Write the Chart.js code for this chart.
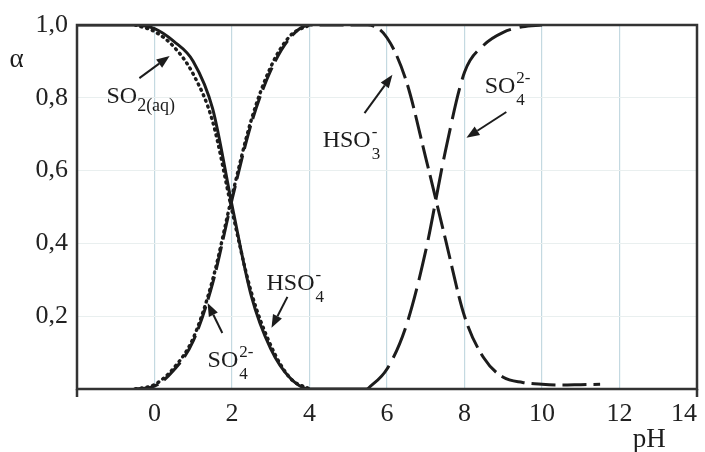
<!DOCTYPE html>
<html>
<head>
<meta charset="utf-8">
<script src="https://cdn.jsdelivr.net/npm/chart.js@4.4.1/dist/chart.umd.min.js"></script>
<style>
  html, body { margin: 0; padding: 0; background: #fff; }
  #wrap { width: 705px; height: 452px; position: relative; }
</style>
</head>
<body>
<div id="wrap"><canvas id="chart"></canvas></div>
<script>
// pH grid the curves were read on
const pH = [-2, -1.5, -1, -0.5, 0, 0.5, 1, 1.5, 2, 2.5, 3, 3.5, 4, 4.5, 5, 5.5,
            6, 6.5, 7, 7.5, 8, 8.5, 9, 9.5, 10, 10.5, 11, 11.5, 12, 12.5, 13, 13.5, 14];

// fractions (null = not drawn)
const so2aq = [1, 1, 1, 1, 0.99, 0.955, 0.9, 0.77, 0.505, 0.255, 0.11, 0.03, 0, 0, 0, 0,
               null, null, null, null, null, null, null, null, null, null, null, null, null, null, null, null, null];
const hso4  = [null, null, null, 1, 0.982, 0.94, 0.865, 0.735, 0.49, 0.265, 0.12, 0.03, 0,
               null, null, null, null, null, null, null, null, null, null, null, null, null, null, null, null, null, null, null, null];
const so4   = [null, null, null, 0, 0.012, 0.058, 0.14, 0.3, 0.53, 0.74, 0.885, 0.97, 1,
               null, null, null, null, null, null, null, null, null, null, null, null, null, null, null, null, null, null, null, null];
const hso3  = [null, null, null, 0, 0.008, 0.052, 0.132, 0.29, 0.52, 0.73, 0.875, 0.965, 1, 1, 1, 1,
               0.965, 0.845, 0.635, 0.415, 0.2, 0.085, 0.032, 0.018, 0.013, 0.011, 0.012, 0.013, null, null, null, null, null];
const so3   = [null, null, null, null, null, null, null, null, null, null, null, null, null, null, null, 0,
               0.055, 0.175, 0.38, 0.65, 0.87, 0.945, 0.98, 0.995, 1, null, null, null, null, null, null, null, null];

const xMin = -2, xMax = 14, xStep = 2;
const yMin = 0, yMax = 1, yStep = 0.2;

// species labels with arrows, in data units
const notes = [
  { parts: [['SO', 'n'], ['2(aq)', 'sub']], at: [-1.24, 0.786], from: [-0.39, 0.854], to: [0.39, 0.915] },
  { parts: [['HSO', 'n'], ['-', '3']],      at: [4.34, 0.665],  from: [5.42, 0.758],  to: [6.14, 0.863] },
  { parts: [['SO', 'n'], ['2-', '4']],      at: [8.52, 0.813],  from: [9.08, 0.761],  to: [8.05, 0.69] },
  { parts: [['HSO', 'n'], ['-', '4']],      at: [2.89, 0.272],  from: [3.43, 0.253],  to: [3.02, 0.168] },
  { parts: [['SO', 'n'], ['2-', '4']],      at: [1.37, 0.06],   from: [1.75, 0.154],  to: [1.37, 0.236] }
];

const SERIF = '"Liberation Serif", "DejaVu Serif", serif';
const INK = '#1c1c1c';

function pts(values) {
  return pH.map((x, i) => ({ x: x, y: values[i] }));
}

const framePlugin = {
  id: 'frame',
  afterDatasetsDraw(chart) {
    const { ctx, chartArea: a } = chart;
    ctx.save();
    ctx.strokeStyle = '#333';
    ctx.lineWidth = 2.5;
    ctx.strokeRect(a.left, a.top, a.right - a.left, a.bottom - a.top);
    ctx.beginPath();
    ctx.moveTo(a.left, a.bottom); ctx.lineTo(a.left, a.bottom + 8);
    ctx.moveTo(a.right, a.bottom); ctx.lineTo(a.right, a.bottom + 8);
    ctx.stroke();
    ctx.restore();
  }
};

function arrow(ctx, x1, y1, x2, y2) {
  const ang = Math.atan2(y2 - y1, x2 - x1);
  const len = 13, half = 5;
  const bx = x2 - len * Math.cos(ang), by = y2 - len * Math.sin(ang);
  ctx.beginPath();
  ctx.moveTo(x1, y1);
  ctx.lineTo(bx, by);
  ctx.stroke();
  ctx.beginPath();
  ctx.moveTo(x2, y2);
  ctx.lineTo(bx + half * Math.sin(ang), by - half * Math.cos(ang));
  ctx.lineTo(bx - half * Math.sin(ang), by + half * Math.cos(ang));
  ctx.closePath();
  ctx.fill();
}

const notesPlugin = {
  id: 'notes',
  afterDatasetsDraw(chart) {
    const { ctx } = chart;
    const sx = chart.scales.x, sy = chart.scales.y;
    ctx.save();
    ctx.fillStyle = INK;
    ctx.strokeStyle = INK;
    ctx.lineWidth = 2;
    ctx.textBaseline = 'alphabetic';
    ctx.textAlign = 'left';
    notes.forEach(n => {
      let x = sx.getPixelForValue(n.at[0]);
      const y = sy.getPixelForValue(n.at[1]);
      n.parts.forEach(([a, b]) => {
        if (b === 'n') {
          ctx.font = '24px ' + SERIF;
          ctx.fillText(a, x, y);
          x += ctx.measureText(a).width;
        } else if (b === 'sub') {
          ctx.font = '18px ' + SERIF;
          ctx.fillText(a, x, y + 8);
          x += ctx.measureText(a).width;
        } else {
          // superscript a over subscript b
          ctx.font = '17px ' + SERIF;
          ctx.fillText(a, x + 1, y - 10);
          ctx.fillText(b, x + 1, y + 12);
          x += Math.max(ctx.measureText(a).width, ctx.measureText(b).width);
        }
      });
      arrow(ctx, sx.getPixelForValue(n.from[0]), sy.getPixelForValue(n.from[1]),
                 sx.getPixelForValue(n.to[0]), sy.getPixelForValue(n.to[1]));
    });
    // axis names
    ctx.font = '27px ' + SERIF;
    ctx.textAlign = 'center';
    ctx.fillText('\u03b1', sx.getPixelForValue(-3.56), sy.getPixelForValue(0.885));
    ctx.fillText('pH', sx.getPixelForValue(12.77), sy.getPixelForValue(-0.16));
    ctx.restore();
  }
};

const base = { pointRadius: 0, borderColor: INK, fill: false, cubicInterpolationMode: 'monotone', spanGaps: false };

new Chart(document.getElementById('chart'), {
  type: 'line',
  data: {
    datasets: [
      Object.assign({ label: 'SO2(aq)', data: pts(so2aq), borderWidth: 3 }, base),
      Object.assign({ label: 'HSO4-', data: pts(hso4), borderWidth: 3.4, borderDash: [1, 5], borderCapStyle: 'round' }, base),
      Object.assign({ label: 'SO4 2-', data: pts(so4), borderWidth: 3.4, borderDash: [1, 5], borderCapStyle: 'round' }, base),
      Object.assign({ label: 'HSO3-', data: pts(hso3), borderWidth: 3, borderDash: [24, 7] }, base),
      Object.assign({ label: 'SO3 2-', data: pts(so3), borderWidth: 3, borderDash: [32, 9] }, base)
    ]
  },
  options: {
    responsive: true,
    maintainAspectRatio: false,
    animation: false,
    layout: { padding: { left: 0, top: 25, right: 8, bottom: 0 } },
    plugins: { legend: { display: false }, tooltip: { enabled: false } },
    scales: {
      x: {
        type: 'linear', min: xMin, max: xMax,
        border: { display: false },
        grid: {
          drawTicks: false,
          color: c => (c.tick.value === xMin || c.tick.value === xMax) ? 'rgba(0,0,0,0)' : '#c4d9e1',
          lineWidth: 1.2
        },
        ticks: {
          stepSize: xStep, padding: 10, color: '#222', align: 'inner',
          font: { family: SERIF, size: 26 },
          callback: v => v === xMin ? '' : String(v)
        },
        afterFit: s => { s.height = 63; s.paddingLeft = 0; s.paddingRight = 0; }
      },
      y: {
        type: 'linear', min: yMin, max: yMax,
        border: { display: false },
        grid: {
          drawTicks: false,
          color: c => (c.tick.value <= yMin + 1e-6 || c.tick.value >= yMax - 1e-6) ? 'rgba(0,0,0,0)' : '#e9efef',
          lineWidth: 1
        },
        ticks: {
          stepSize: yStep, padding: 9, color: '#222',
          font: { family: SERIF, size: 26 },
          callback: v => v < 1e-6 ? '' : v.toFixed(1).replace('.', ',')
        },
        afterFit: s => { s.width = 77; s.paddingTop = 0; s.paddingBottom = 0; }
      }
    }
  },
  plugins: [framePlugin, notesPlugin]
});
</script>
</body>
</html>
